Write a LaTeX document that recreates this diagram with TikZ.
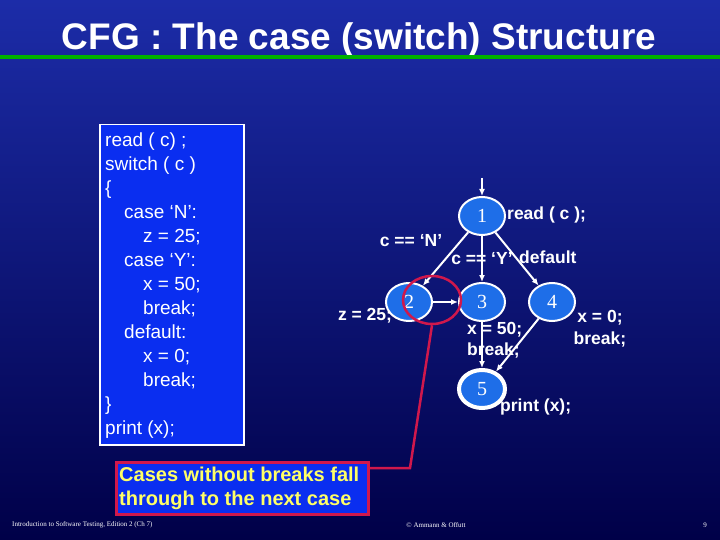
\documentclass[tikz,border=0pt]{standalone}
\usepackage{fontspec}
\setmainfont{Liberation Sans}
\newfontfamily\serif{Liberation Serif}
\usetikzlibrary{shapes.geometric,arrows.meta}
\definecolor{bgtop}{HTML}{1C2CA8}
\definecolor{bgbot}{HTML}{000048}
\definecolor{boxblue}{HTML}{0A2EF0}
\definecolor{nodeblue}{HTML}{1E6EE8}
\definecolor{callred}{HTML}{D0184C}
\definecolor{ylw}{HTML}{FFFF66}
\begin{document}
\begin{tikzpicture}[x=1pt,y=-1pt,
  nd/.style={ellipse,draw=white,line width=2pt,fill=nodeblue,minimum width=46pt,minimum height=38pt,inner sep=0pt,font=\serif\fontsize{20}{20}\selectfont,text=white},
  ed/.style={draw=white,line width=2pt,-{Latex[length=7pt,width=6pt]}},
  lb/.style={text=white,font=\bfseries\fontsize{17.5}{18}\selectfont,inner sep=0pt},
  ft/.style={text=white,font=\serif\fontsize{7}{8}\selectfont,inner sep=0pt}]
\useasboundingbox (0,0) rectangle (720,540);
\shade[top color=bgtop,bottom color=bgbot] (0,0) rectangle (720,540);
\node[text=white,font=\bfseries\fontsize{37}{38}\selectfont,inner sep=0pt] (title) at (359,40) {CFG : The case (switch) Structure};
\draw[green!70!black,line width=4pt] (0,57) -- (720,57);
\node[draw=white,line width=1.5pt,fill=boxblue,minimum width=144pt,minimum height=320pt,anchor=north west,inner sep=0pt] (code) at (99,124) {};
\node[text=white,anchor=north west,align=left,font=\fontsize{19}{24}\selectfont,inner sep=0pt] (codetxt) at (105,133) {read ( c) ;\\switch ( c )\\\{\\\quad case ‘N’:\\\qquad z = 25;\\\quad case ‘Y’:\\\qquad x = 50;\\\qquad break;\\\quad default:\\\qquad x = 0;\\\qquad break;\\\}\\print (x);};
\node[nd] (n1) at (482,216) {1};
\node[nd] (n2) at (409,302) {2};
\node[nd] (n3) at (482,302) {3};
\node[nd] (n4) at (552,302) {4};
\node[nd,line width=4pt] (n5) at (482,389) {5};
\coordinate (top) at (482,178);
\draw[ed] (top) -- (n1);
\draw[ed] (n1) -- (n2);
\draw[ed] (n1) -- (n3);
\draw[ed] (n1) -- (n4);
\draw[ed] (n2) -- (n3);
\draw[ed] (n3) -- (n5);
\draw[ed] (n4) -- (n5);
\node[lb,anchor=west] (l1) at (507,215) {read ( c );};
\node[lb] (lN) at (411,241) {c == ‘N’};
\node[lb] (lY) at (482,259) {c == ‘Y’};
\node[lb,anchor=west] (ld) at (519,257) {default};
\node[lb] (lz) at (365,316) {z = 25;};
\node[lb,anchor=west] (lx) at (467,330) {x = 50;};
\node[lb,anchor=west] (lb3) at (467,351) {break;};
\node[lb] (lx0) at (600,318) {x = 0;};
\node[lb] (lb4) at (600,340) {break;};
\node[lb,anchor=west] (lp) at (500,407) {print (x);};
\node[ellipse,draw=callred,line width=2.5pt,minimum width=58pt,minimum height=48pt] (rc) at (432,300) {};
\node[draw=callred,line width=2.5pt,fill=boxblue,minimum width=252pt,minimum height=52pt,anchor=north west,inner sep=0pt] (call) at (115,461) {};
\node[text=ylw,align=left,font=\bfseries\fontsize{20}{24}\selectfont,anchor=west,inner sep=0pt] (calltxt) at (119,488) {Cases without breaks fall\\through to the next case};
\coordinate (bend) at (410,468);
\draw[callred,line width=2.5pt] (rc.south) -- (bend) -- (call.east |- bend);
\node[ft,anchor=west] (f1) at (12,525) {Introduction to Software Testing, Edition 2 (Ch 7)};
\node[ft] (f2) at (436,525) {© Ammann \& Offutt};
\node[ft] (f3) at (705,525) {9};
\end{tikzpicture}
\end{document}
